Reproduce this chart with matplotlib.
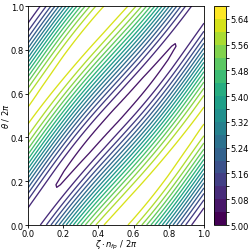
import numpy as np
import matplotlib.pyplot as plt
from matplotlib.colors import BoundaryNorm
from matplotlib.cm import ScalarMappable

# Fourier spectrum of |B| on the surface: B = sum bmn * cos(2pi*(m*theta - n*zeta))
xm = [0, 1, 1, 1]
xn = [0, 1, 0, 2]
bmn = [5.3467, -0.3094, 0.0226, -0.0160]

levels = np.arange(5.00, 5.6801, 0.04)
cbar_ticks = [5.00, 5.08, 5.16, 5.24, 5.32, 5.40, 5.48, 5.56, 5.64]

ntheta, nzeta = 50, 50
theta = np.linspace(0, 1, ntheta)
zeta = np.linspace(0, 1, nzeta)
Z, T = np.meshgrid(zeta, theta)
B = np.zeros_like(Z)
for m, n, b in zip(xm, xn, bmn):
    B += b * np.cos(2 * np.pi * (m * T - n * Z))

plt.rcParams['font.size'] = 6
fig = plt.figure(figsize=(2.49, 2.51), dpi=100)
ax = fig.add_axes([0.1124, 0.0996, 0.7068, 0.8725])
cax = fig.add_axes([0.859, 0.0996, 0.05, 0.8725])

norm = BoundaryNorm(levels, 256)
cs = ax.contour(Z, T, B, levels=levels, cmap='viridis', linewidths=0.95,
                vmin=levels[0], vmax=levels[-1])
sm = ScalarMappable(norm=norm, cmap='viridis')
cb = fig.colorbar(sm, cax=cax)
cb.set_ticks(cbar_ticks)
cb.ax.set_yticklabels(['%.2f' % t for t in cbar_ticks])
cb.outline.set_linewidth(0.6)

ax.set_xlim(0, 1)
ax.set_ylim(0, 1)
ax.set_xticks([0, 0.2, 0.4, 0.6, 0.8, 1.0])
ax.set_yticks([0, 0.2, 0.4, 0.6, 0.8, 1.0])
ax.set_xlabel(r'$\zeta \cdot n_{fp}$ / 2$\pi$', labelpad=0)
ax.set_ylabel(r'$\theta$ / 2$\pi$', labelpad=0)
ax.tick_params(length=2, pad=0.8, width=0.6)
cb.ax.tick_params(length=2, pad=0.8, width=0.6)
for s in ax.spines.values():
    s.set_linewidth(0.6)

fig.savefig('out.png', dpi=100)
